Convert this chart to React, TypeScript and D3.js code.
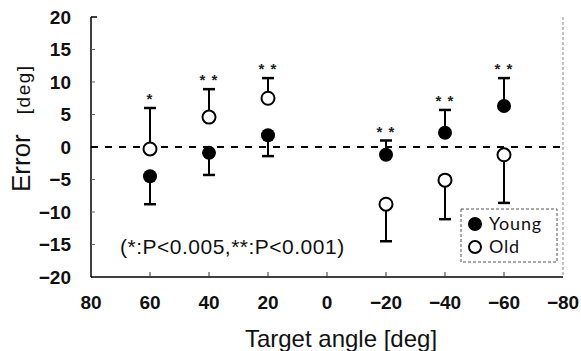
import * as d3 from "d3";

const angles = [60, 40, 20, -20, -40, -60];
const youngMean = [-4.5, -0.9, 1.8, -1.2, 2.2, 6.3];
const youngErr = [-8.8, -4.3, -1.4, 1.0, 5.7, 10.6];
const oldMean = [-0.3, 4.6, 7.5, -8.8, -5.1, -1.2];
const oldErr = [6.0, 8.9, 10.6, -14.5, -11.1, -8.6];
const stars = ["*", "**", "**", "**", "**", "**"];
const xTicks = [80, 60, 40, 20, 0, -20, -40, -60, -80];
const yTicks = [20, 15, 10, 5, 0, -5, -10, -15, -20];

const W = 581;
const H = 351;
const L = 91, R = 563, T = 17, B = 277;
const font = "'Liberation Sans', Arial, sans-serif";
const legendFont = "Lato, 'Open Sans', sans-serif";

export default function App() {
  const x = d3.scaleLinear().domain([80, -80]).range([L, R]);
  const y = d3.scaleLinear().domain([-20, 20]).range([B, T]);
  const cap = 6;

  const errBar = (a: number, m: number, e: number, key: string) => (
    <g key={key} stroke="#000" strokeWidth={2}>
      <line x1={x(a)} x2={x(a)} y1={y(m)} y2={y(e)} />
      <line x1={x(a) - cap} x2={x(a) + cap} y1={y(e)} y2={y(e)} strokeWidth={2.5} />
    </g>
  );

  // star sits above the higher error cap
  const starY = angles.map((a, i) => Math.min(y(youngErr[i]), y(oldErr[i]), y(youngMean[i]), y(oldMean[i])) - 4);
  const fmt = (t: number) => (t < 0 ? "\u2212" + Math.abs(t) : String(t));

  return (
    <svg width={W} height={H} style={{ position: "absolute", left: 0, top: 0, background: "#fff" }}>
      {/* frame */}
      <line x1={R} x2={R} y1={T} y2={B} stroke="#888" strokeWidth={1} strokeDasharray="3,2" />
      <line x1={L} x2={L} y1={T} y2={B} stroke="#000" strokeWidth={1.5} />
      <line x1={L} x2={R} y1={B} y2={B} stroke="#000" strokeWidth={1.5} />
      <line x1={L} x2={L + 6} y1={T} y2={T} stroke="#000" strokeWidth={1.5} />
      {yTicks.filter((t) => t !== 20 && t !== -20).map((t) => (
        <line key={"yt" + t} x1={L} x2={L + 4} y1={y(t)} y2={y(t)} stroke="#666" strokeWidth={1} />
      ))}
      {xTicks.filter((t) => t !== 80 && t !== -80).map((t) => (
        <line key={"xt" + t} x1={x(t)} x2={x(t)} y1={B} y2={B - 5} stroke="#333" strokeWidth={1} />
      ))}
      {yTicks.map((t) => (
        <text key={"yl" + t} x={L - 20} y={y(t)} dy="0.35em" textAnchor="end" fontFamily={font} fontSize={19} fontWeight="bold" fill="#111">
          {fmt(t)}
        </text>
      ))}
      {xTicks.map((t) => (
        <text key={"xl" + t} x={x(t)} y={B + 25} dy="0.35em" textAnchor="middle" fontFamily={font} fontSize={19} fontWeight="bold" fill="#111">
          {fmt(t)}
        </text>
      ))}
      <text x={341} y={347} textAnchor="middle" fontFamily={font} fontSize={24} fill="#111">
        Target angle [deg]
      </text>
      <text transform={`translate(30,192) rotate(-90)`} textAnchor="start" fontFamily={font} fill="#111">
        <tspan fontSize={26}>Error</tspan>
        <tspan fontSize={19} dx={20} letterSpacing={1.5}>[deg]</tspan>
      </text>

      {/* zero line */}
      <line x1={L} x2={R} y1={y(0)} y2={y(0)} stroke="#000" strokeWidth={2} strokeDasharray="7,7" />

      {angles.map((a, i) => errBar(a, youngMean[i], youngErr[i], "ye" + i))}
      {angles.map((a, i) => errBar(a, oldMean[i], oldErr[i], "oe" + i))}
      {angles.map((a, i) => (
        <circle key={"y" + i} cx={x(a)} cy={y(youngMean[i])} r={7} fill="#000" />
      ))}
      {angles.map((a, i) => (
        <circle key={"o" + i} cx={x(a)} cy={y(oldMean[i])} r={6.5} fill="#fff" stroke="#000" strokeWidth={2} />
      ))}
      {angles.map((a, i) => (
        <text key={"s" + i} x={x(a)} y={starY[i]} textAnchor="middle" fontFamily={font} fontSize={15} fontWeight="bold" fill="#222" letterSpacing={1}>
          {stars[i].split("").join(" ")}
        </text>
      ))}

      <text x={120} y={247} dy="0.35em" fontFamily={font} fontSize={21} letterSpacing={0.5} fill="#111">
        (*:P&lt;0.005,**:P&lt;0.001)
      </text>

      {/* legend */}
      <rect x={461} y={209} width={96} height={53} fill="#fff" stroke="#555" strokeWidth={1} strokeDasharray="3,2" />
      <circle cx={475} cy={224} r={7} fill="#000" />
      <text x={489} y={224} dy="0.35em" fontFamily={legendFont} fontSize={18} letterSpacing={0.8} fill="#111">Young</text>
      <circle cx={475} cy={247} r={6} fill="#fff" stroke="#000" strokeWidth={2} />
      <text x={489} y={247} dy="0.35em" fontFamily={legendFont} fontSize={18} letterSpacing={0.8} fill="#111">Old</text>
    </svg>
  );
}
